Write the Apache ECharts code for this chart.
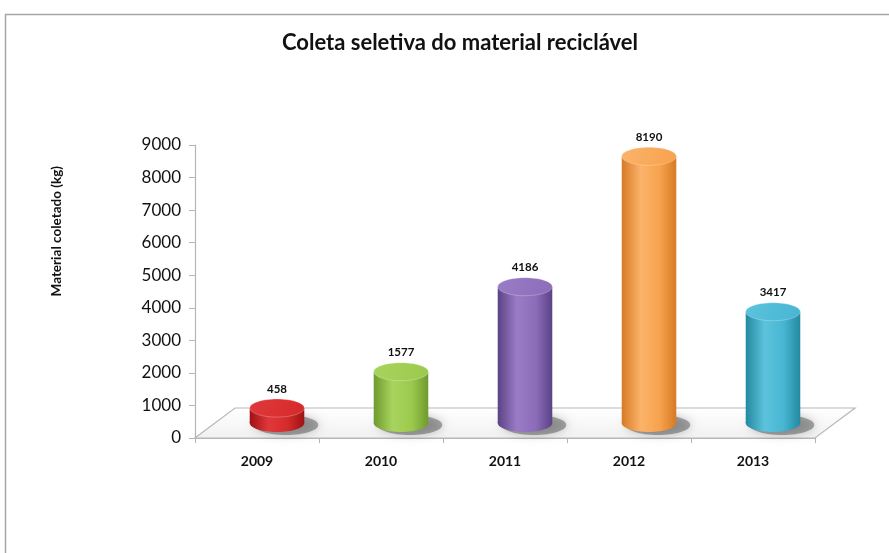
<!DOCTYPE html>
<html>
<head>
<meta charset="utf-8">
<script src="https://cdn.jsdelivr.net/npm/echarts@6/dist/echarts.min.js"></script>
<style>
  html, body { margin: 0; padding: 0; background: #ffffff; }
  #chart { width: 889px; height: 553px; }
</style>
</head>
<body>
<div id="chart"></div>
<script>
// Recyclable material collected per year (kg)
const years = ['2009', '2010', '2011', '2012', '2013'];
const collected = [458, 1577, 4186, 8190, 3417];
const yTicks = [0, 1000, 2000, 3000, 4000, 5000, 6000, 7000, 8000, 9000];

// Cylinder palette: [edge shade, body highlight, top face]
const palette = [
  ['#9e1214', '#e0383a', '#d52a2c'],
  ['#6f9a2e', '#a8d45e', '#9bc94c'],
  ['#5b4285', '#9a7cc6', '#8b6cb9'],
  ['#d67a25', '#fbb36a', '#f7a24d'],
  ['#23899f', '#5cc3dd', '#47b5d2']
];

// Depth offset of the plotted bars inside the 3D floor
const DEPTH_X = 20, DEPTH_Y = -15;

const chart = echarts.init(document.getElementById('chart'));

function cylinder(params, api) {
  const i = api.value(0);
  const v = api.value(1);
  const base = api.coord([i, 0]);
  const top = api.coord([i, v]);
  const band = api.size([1, 0])[0];
  const w = band * 0.44;
  const rx = w / 2, ry = 9;
  const cx = base[0] + DEPTH_X;
  const yb = base[1] + DEPTH_Y;
  const yt = top[1] + DEPTH_Y;
  const c = palette[i % palette.length];
  const bodyFill = new echarts.graphic.LinearGradient(0, 0, 1, 0, [
    { offset: 0, color: c[0] },
    { offset: 0.35, color: c[1] },
    { offset: 0.7, color: c[2] },
    { offset: 1, color: c[0] }
  ]);
  const topFill = new echarts.graphic.LinearGradient(0, 0, 1, 1, [
    { offset: 0, color: c[1] },
    { offset: 1, color: c[2] }
  ]);
  return {
    type: 'group',
    children: [
      { type: 'ellipse', shape: { cx: cx + 9, cy: yb + 2, rx: rx + 5, ry: ry + 1 },
        style: { fill: 'rgba(70,70,70,0.45)', shadowBlur: 10, shadowColor: 'rgba(0,0,0,0.5)' } },
      { type: 'ellipse', shape: { cx: cx, cy: yb, rx: rx, ry: ry }, style: { fill: bodyFill } },
      { type: 'rect', shape: { x: cx - rx, y: yt, width: w, height: Math.max(0, yb - yt) }, style: { fill: bodyFill } },
      { type: 'ellipse', shape: { cx: cx, cy: yt, rx: rx, ry: ry },
        style: { fill: topFill, stroke: 'rgba(255,255,255,0.25)', lineWidth: 1 } },
      { type: 'text', x: cx, y: yt - ry - 4,
        style: { text: String(v), fill: '#111', font: 'bold 11.5px Lato, sans-serif', align: 'center', verticalAlign: 'bottom' } }
    ]
  };
}

function floor(params, api) {
  const first = api.coord([0, 0]);
  const last = api.coord([years.length - 1, 0]);
  const band = api.size([1, 0])[0];
  const x0 = first[0] - band / 2, x1 = last[0] + band / 2, y = first[1];
  const dx = DEPTH_X * 2, dy = DEPTH_Y * 2;
  return {
    type: 'polygon',
    shape: { points: [[x0, y], [x1, y], [x1 + dx, y + dy], [x0 + dx, y + dy]] },
    style: {
      fill: new echarts.graphic.LinearGradient(0, 0, 0, 1, [
        { offset: 0, color: '#ffffff' }, { offset: 1, color: '#f1f1f1' }
      ]),
      stroke: '#b9b9b9', lineWidth: 1.2
    }
  };
}

chart.setOption({
  backgroundColor: '#ffffff',
  textStyle: { fontFamily: 'Lato, sans-serif' },
  title: {
    text: 'Coleta seletiva do material reciclável',
    left: 455, top: 27, textAlign: 'center',
    textStyle: { fontFamily: 'Lato, sans-serif', fontSize: 22, fontWeight: 'bold', color: '#111' }
  },
  graphic: [
    { type: 'rect', shape: { x: 5.5, y: 14.5, width: 900, height: 600 },
      style: { fill: 'none', stroke: '#a6a6a6', lineWidth: 1.5 }, silent: true, z: -1 },
    { type: 'text', left: 50, top: 166, rotation: Math.PI / 2,
      style: { text: 'Material coletado (kg)', font: 'bold 13.5px Lato, sans-serif', fill: '#111' } }
  ],
  grid: { left: 195, right: 74, top: 145, bottom: 115 },
  xAxis: {
    type: 'category', data: years,
    axisLine: { lineStyle: { color: '#b5b5b5', width: 1.2 } },
    axisTick: { show: true, alignWithLabel: false, length: 5, lineStyle: { color: '#b5b5b5' } },
    axisLabel: { color: '#111', fontWeight: 'bold', fontSize: 14, margin: 16 }
  },
  yAxis: {
    type: 'value', min: yTicks[0], max: yTicks[yTicks.length - 1], interval: 1000,
    axisLine: { show: true, lineStyle: { color: '#b5b5b5', width: 1.2 } },
    axisTick: { show: true, length: 6, lineStyle: { color: '#b5b5b5' } },
    splitLine: { show: false },
    axisLabel: { color: '#111', fontSize: 17, margin: 14, formatter: (v) => String(v) }
  },
  series: [
    { type: 'custom', renderItem: floor, data: [[0, 0]], z: 1, silent: true },
    { type: 'custom', renderItem: cylinder, z: 3,
      encode: { x: 0, y: 1 },
      data: collected.map((v, i) => [i, v]) }
  ]
});
</script>
</body>
</html>
